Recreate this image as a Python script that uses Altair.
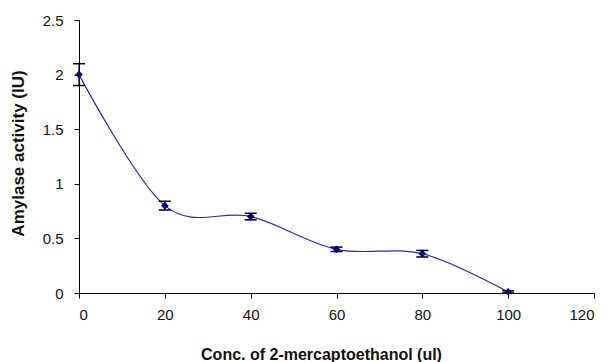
import altair as alt
import pandas as pd

conc = [0, 20, 40, 60, 80, 100]
activity = [2.0, 0.80, 0.70, 0.40, 0.36, 0.01]
error = [0.10, 0.04, 0.03, 0.02, 0.03, 0.01]

df = pd.DataFrame({"conc": conc, "act": activity, "err": error})
df["lo"] = df["act"] - df["err"]
df["hi"] = df["act"] + df["err"]

FONT = "Liberation Sans"

xs = alt.Scale(domain=[0, 120], nice=False, zero=False)
ys = alt.Scale(domain=[0, 2.5], nice=False)

x_axis = alt.Axis(
    values=[0, 20, 40, 60, 80, 100, 120], grid=False, domainColor="black",
    tickColor="black", tickSize=5, labelFont=FONT, labelFontSize=15,
    labelColor="#111", labelPadding=9, title="Conc. of 2-mercaptoethanol (ul)",
    titleFont=FONT, titleFontSize=16, titleFontWeight="bold", titleColor="#111",
    titleX=242, titleY=61, titleBaseline="middle", titleAlign="center",
)
y_axis = alt.Axis(
    values=[0, 0.5, 1, 1.5, 2, 2.5], grid=False, domainColor="black",
    tickColor="black", tickSize=5, labelFont=FONT, labelFontSize=15,
    labelColor="#111", labelPadding=11, labelExpr="toString(datum.value)",
    title="Amylase activity (IU)", titleFont=FONT, titleFontSize=17,
    titleFontWeight="bold", titleColor="#111", titleAngle=-90,
    titleX=-61, titleY=133, titleBaseline="middle", titleAlign="center",
)

base = alt.Chart(df)

line = base.mark_line(interpolate="cardinal", tension=0, color="#2a2ab8", strokeWidth=1.2).encode(
    x=alt.X("conc:Q", scale=xs, axis=x_axis),
    y=alt.Y("act:Q", scale=ys, axis=y_axis),
)

bars = base.mark_rule(color="black", strokeWidth=1.2).encode(
    x="conc:Q", y="lo:Q", y2="hi:Q"
)
cap_hi = base.mark_rule(color="black", strokeWidth=1.5, xOffset=-6, x2Offset=6).encode(
    x="conc:Q", x2="conc:Q", y="hi:Q"
)
cap_lo = base.mark_rule(color="black", strokeWidth=1.5, xOffset=-6, x2Offset=6).encode(
    x="conc:Q", x2="conc:Q", y="lo:Q"
)

pts = base.mark_point(shape="diamond", filled=True, size=60, color="#000080", opacity=1).encode(
    x="conc:Q", y="act:Q"
)

chart = (
    alt.layer(line, bars, cap_hi, cap_lo, pts)
    .properties(
        width=515, height=273, autosize="none",
        padding={"left": 79, "top": 20, "right": 17, "bottom": 69},
        background="white",
    )
    .configure_view(stroke=None)
)

chart.save("out.html", embed_options={"renderer": "svg", "actions": False})
